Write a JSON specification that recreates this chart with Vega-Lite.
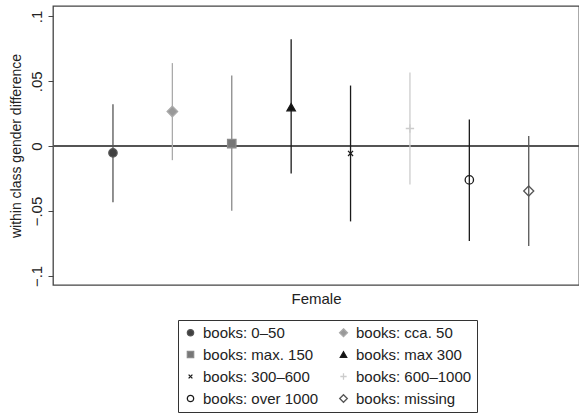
{
  "$schema": "https://vega.github.io/schema/vega-lite/v6.json",
  "width": 526,
  "height": 279,
  "autosize": {"type": "none"},
  "padding": {"left": 53, "top": 6, "right": 0, "bottom": 130},
  "background": "white",
  "config": {
    "font": "Liberation Sans",
    "view": {"stroke": "#444", "strokeWidth": 1.3},
    "axis": {"grid": false, "labelFont": "Liberation Sans", "titleFont": "Liberation Sans", "labelColor": "#222", "titleColor": "#222", "titleFontWeight": "normal"},
    "legend": {
      "orient": "none",
      "legendX": 125,
      "legendY": 314,
      "columns": 2,
      "direction": "horizontal",
      "labelFontSize": 15,
      "labelColor": "#222",
      "labelFont": "Liberation Sans",
      "symbolSize": 40,
      "symbolStrokeWidth": 1.3,
      "rowPadding": 6,
      "columnPadding": 17,
      "labelOffset": 5,
      "padding": 5,
      "strokeColor": "#333",
      "fillColor": "white",
      "labelLimit": 300
    }
  },
  "data": {
    "values": [
      {"group": "books: 0–50", "est": -0.0052, "lo": -0.0433, "hi": 0.0323},
      {"group": "books: cca. 50", "est": 0.0267, "lo": -0.0108, "hi": 0.064},
      {"group": "books: max. 150", "est": 0.002, "lo": -0.0498, "hi": 0.0544},
      {"group": "books: max 300", "est": 0.030, "lo": -0.021, "hi": 0.0823},
      {"group": "books: 300–600", "est": -0.0056, "lo": -0.058, "hi": 0.0467},
      {"group": "books: 600–1000", "est": 0.0136, "lo": -0.0295, "hi": 0.0567},
      {"group": "books: over 1000", "est": -0.026, "lo": -0.073, "hi": 0.0205},
      {"group": "books: missing", "est": -0.0346, "lo": -0.077, "hi": 0.0079}
    ]
  },
  "encoding": {
    "x": {
      "field": "group",
      "type": "nominal",
      "sort": null,
      "scale": {"type": "point", "padding": 0.928, "align": 0.544},
      "axis": {"labels": false, "ticks": false, "domain": false, "title": "Female", "titleFontSize": 15, "titlePadding": 6}
    }
  },
  "layer": [
    {
      "mark": {"type": "rule", "stroke": "#555", "strokeWidth": 1.6},
      "encoding": {"x": null, "y": {"datum": 0}}
    },
    {
      "mark": {"type": "rule", "strokeWidth": 1.3},
      "encoding": {
        "y": {
          "field": "lo",
          "type": "quantitative",
          "scale": {"domain": [-0.107, 0.108], "nice": false, "zero": false},
          "axis": {
            "values": [-0.1, -0.05, 0, 0.05, 0.1],
            "domain": false,
            "tickSize": 5,
            "tickColor": "#444",
            "labelAngle": -90,
            "labelFontSize": 15,
            "labelPadding": 4,
            "labelExpr": "datum.value == 0 ? '0' : replace(replace(format(datum.value, '.2~f'), '0.', '.'), '-', '−')",
            "title": "within class gender difference",
            "titleFontSize": 14,
            "titlePadding": 6
          }
        },
        "y2": {"field": "hi"},
        "stroke": {
          "field": "group",
          "type": "nominal",
          "scale": {
            "domain": ["books: 0–50", "books: cca. 50", "books: max. 150", "books: max 300", "books: 300–600", "books: 600–1000", "books: over 1000", "books: missing"],
            "range": ["#555555", "#aaaaaa", "#8a8a8a", "#1a1a1a", "#1a1a1a", "#cccccc", "#1a1a1a", "#555555"]
          }
        }
      }
    },
    {
      "mark": {"type": "point", "filled": false, "size": 70, "strokeWidth": 1.3, "opacity": 1},
      "encoding": {
        "y": {"field": "est", "type": "quantitative"},
        "shape": {
          "field": "group",
          "type": "nominal",
          "scale": {
            "domain": ["books: 0–50", "books: cca. 50", "books: max. 150", "books: max 300", "books: 300–600", "books: 600–1000", "books: over 1000", "books: missing"],
            "range": ["circle", "M0,-1.25L1.25,0L0,1.25L-1.25,0Z", "square", "triangle-up", "M-0.6,-0.6L0.6,0.6M-0.6,0.6L0.6,-0.6", "M-1,0L1,0M0,-1L0,1", "circle", "M0,-1.2L1.2,0L0,1.2L-1.2,0Z"]
          },
          "legend": {"title": null}
        },
        "fill": {
          "field": "group",
          "type": "nominal",
          "scale": {
            "domain": ["books: 0–50", "books: cca. 50", "books: max. 150", "books: max 300", "books: 300–600", "books: 600–1000", "books: over 1000", "books: missing"],
            "range": ["#404040", "#999999", "#777777", "#111111", "transparent", "transparent", "transparent", "transparent"]
          },
          "legend": {"title": null}
        },
        "stroke": {"field": "group", "type": "nominal", "legend": {"title": null}}
      }
    }
  ]
}
